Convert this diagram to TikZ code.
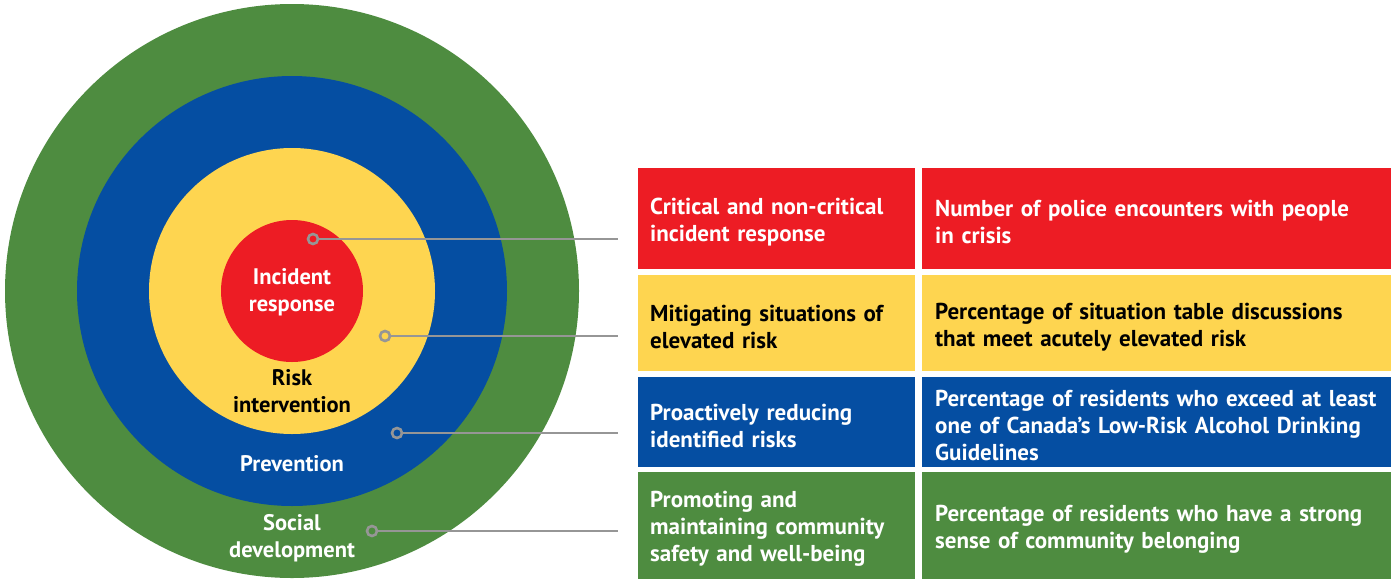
\documentclass[tikz,border=0pt]{standalone}
\usepackage{fontspec}
\setmainfont{PT Sans}
\usetikzlibrary{positioning}

\definecolor{ringred}{RGB}{237,28,36}
\definecolor{ringyellow}{RGB}{254,213,80}
\definecolor{ringblue}{RGB}{5,78,162}
\definecolor{ringgreen}{RGB}{78,140,64}
\definecolor{leadgray}{RGB}{150,150,150}

\begin{document}
\begin{tikzpicture}[
x=1pt, y=-1pt,
ring/.style={circle, inner sep=0pt, minimum size=#1},
label/.style={align=center, font=\fontsize{22.5}{27}\selectfont\bfseries},
dot/.style={circle, draw=leadgray, line width=2.6pt, inner sep=0pt, minimum size=10pt},
lead/.style={draw=leadgray, line width=2.6pt},
cell/.style={rectangle, anchor=north west, inner sep=0pt},
celltext/.style={inner sep=0pt, align=left, yshift=-3.5pt, font=\fontsize{23}{27}\selectfont\bfseries},
]
\useasboundingbox (0,0) rectangle (1395,579);

% Rings
\node[ring=574pt, fill=ringgreen] (social) at (292,291) {};
\node[ring=430pt, fill=ringblue] (prevention) at (292,291) {};
\node[ring=286pt, fill=ringyellow] (risk) at (292,291) {};
\node[ring=142pt, fill=ringred] (incident) at (292,291) {};

% Ring labels
\node[label, text=white] (lincident) at (292,292) {Incident\\response};
\node[label, text=black] (lrisk) at (292,391) {Risk\\intervention};
\node[label, text=white] (lprevention) at (292,464) {Prevention};
\node[label, text=white] (lsocial) at (292,538) {Social\\development};

% Leader dots and lines
\node[dot] (dincident) at (313,239) {};
\node[dot] (drisk) at (385,336) {};
\node[dot] (dprevention) at (397,433) {};
\node[dot] (dsocial) at (372,531) {};

\coordinate (eincident) at (618,239);
\coordinate (erisk) at (618,336);
\coordinate (eprevention) at (618,433);
\coordinate (esocial) at (618,531);

\draw[lead] (dincident.east) -- (eincident);
\draw[lead] (drisk.east) -- (erisk);
\draw[lead] (dprevention.east) -- (eprevention);
\draw[lead] (dsocial.east) -- (esocial);

% Goals column
\node[cell, fill=ringred, minimum width=277pt, minimum height=101pt] (gincident) at (638,168) {};
\node[cell, fill=ringyellow, minimum width=277pt, minimum height=96pt] (grisk) at (638,275) {};
\node[cell, fill=ringblue, minimum width=277pt, minimum height=90pt] (gprevention) at (638,377) {};
\node[cell, fill=ringgreen, minimum width=277pt, minimum height=107pt] (gsocial) at (638,472) {};

\node[celltext, text=white, text width=253pt, right=12pt of gincident.west] (tgincident) {Critical and non-critical\\incident response};
\node[celltext, text=black, text width=253pt, right=12pt of grisk.west] (tgrisk) {Mitigating situations of\\elevated risk};
\node[celltext, text=white, text width=253pt, right=12pt of gprevention.west] (tgprevention) {Proactively reducing\\identified risks};
\node[celltext, text=white, text width=253pt, right=12pt of gsocial.west] (tgsocial) {Promoting and\\maintaining community\\safety and well-being};

% Measures column
\node[cell, fill=ringred, minimum width=469pt, minimum height=101pt] (mincident) at (922,168) {};
\node[cell, fill=ringyellow, minimum width=469pt, minimum height=96pt] (mrisk) at (922,275) {};
\node[cell, fill=ringblue, minimum width=469pt, minimum height=90pt] (mprevention) at (922,377) {};
\node[cell, fill=ringgreen, minimum width=469pt, minimum height=107pt] (msocial) at (922,472) {};

\node[celltext, text=white, text width=443pt, right=13pt of mincident.west] (tmincident) {Number of police encounters with people\\in crisis};
\node[celltext, text=black, text width=443pt, right=13pt of mrisk.west] (tmrisk) {Percentage of situation table discussions\\that meet acutely elevated risk};
\node[celltext, text=white, text width=443pt, right=13pt of mprevention.west] (tmprevention) {Percentage of residents who exceed at least\\one of Canada’s Low-Risk Alcohol Drinking\\Guidelines};
\node[celltext, text=white, text width=443pt, right=13pt of msocial.west] (tmsocial) {Percentage of residents who have a strong\\sense of community belonging};

\end{tikzpicture}
\end{document}
